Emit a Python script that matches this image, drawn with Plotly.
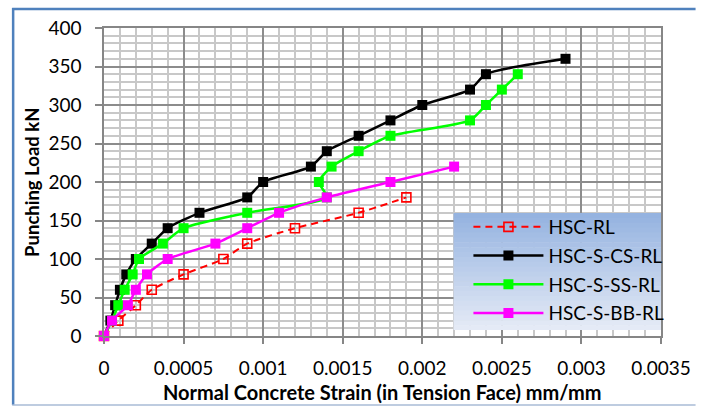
import plotly.graph_objects as go

# ---- data ----
strain_rl = [0, 0.00009, 0.0002, 0.0003, 0.0005, 0.00075, 0.0009, 0.0012, 0.0016, 0.0019]
load_rl = [0, 20, 40, 60, 80, 100, 120, 140, 160, 180]

strain_cs = [0, 0.00004, 0.00007, 0.0001, 0.00014, 0.0002, 0.0003, 0.0004, 0.0006, 0.0009,
             0.001, 0.0013, 0.0014, 0.0016, 0.0018, 0.002, 0.0023, 0.0024, 0.0029]
load_cs = [0, 20, 40, 60, 80, 100, 120, 140, 160, 180, 200, 220, 240, 260, 280, 300, 320, 340, 360]

strain_ss = [0, 0.00005, 0.00009, 0.00013, 0.00018, 0.00022, 0.00037, 0.0005, 0.0009, 0.0014,
             0.00135, 0.00143, 0.0016, 0.0018, 0.0023, 0.0024, 0.0025, 0.0026]
load_ss = [0, 20, 40, 60, 80, 100, 120, 140, 160, 180, 200, 220, 240, 260, 280, 300, 320, 340]

strain_bb = [0, 0.00005, 0.00015, 0.0002, 0.00027, 0.0004, 0.0007, 0.0009, 0.0011, 0.0014, 0.0018, 0.0022]
load_bb = [0, 20, 40, 60, 80, 100, 120, 140, 160, 180, 200, 220]

series_names = ["HSC-RL", "HSC-S-CS-RL", "HSC-S-SS-RL", "HSC-S-BB-RL"]

x_tick_vals = [0, 0.0005, 0.001, 0.0015, 0.002, 0.0025, 0.003, 0.0035]
x_tick_text = ["0", "0.0005", "0.001", "0.0015", "0.002", "0.0025", "0.003", "0.0035"]
y_tick_vals = [0, 50, 100, 150, 200, 250, 300, 350, 400]

x_title = "Normal Concrete Strain (in Tension Face) mm/mm"
y_title = "Punching Load kN"

FONT = "Lato"
W, H = 703, 408
ML, MR, MT, MB = 104, 35, 28, 72
PW, PH = W - ML - MR, H - MT - MB


def px(xp):
    return (xp - ML) / PW


def py(yp):
    return (H - MB - yp) / PH


fig = go.Figure()

fig.add_trace(go.Scatter(
    x=strain_rl, y=load_rl, name=series_names[0], mode="lines+markers", cliponaxis=False,
    line=dict(color="#ff0000", width=2, dash="7px,5px", shape="spline", smoothing=0.6),
    marker=dict(symbol="square-open", size=9, color="#ff0000", line=dict(width=1.6, color="#ff0000")),
    legendgroup="a"))
fig.add_trace(go.Scatter(
    x=strain_cs, y=load_cs, name=series_names[1], mode="lines+markers", cliponaxis=False,
    line=dict(color="#000000", width=2.5, shape="spline", smoothing=0.6),
    marker=dict(symbol="square", size=10, color="#000000"),
    legendgroup="b"))
fig.add_trace(go.Scatter(
    x=strain_ss, y=load_ss, name=series_names[2], mode="lines+markers", cliponaxis=False,
    line=dict(color="#00ff00", width=2.5, shape="spline", smoothing=0.6),
    marker=dict(symbol="square", size=10, color="#00ff00"),
    legendgroup="c"))
fig.add_trace(go.Scatter(
    x=strain_bb, y=load_bb, name=series_names[3], mode="lines+markers", cliponaxis=False,
    line=dict(color="#ff00ff", width=2.5, shape="spline", smoothing=0.6),
    marker=dict(symbol="square", size=10, color="#ff00ff"),
    legendgroup="d"))

shapes = []
# legend gradient background
lx0, lx1, ly0, ly1 = 458, 668, 213, 330
n = 24
top = (149, 179, 224)
bot = (228, 234, 246)
for i in range(n):
    t = i / (n - 1)
    c = tuple(int(round(top[k] + (bot[k] - top[k]) * t)) for k in range(3))
    y0 = ly0 + (ly1 - ly0) * i / n
    y1 = ly0 + (ly1 - ly0) * (i + 1) / n + 0.6
    shapes.append(dict(type="rect", xref="paper", yref="paper", layer="above",
                       x0=px(lx0), x1=px(lx1), y0=py(min(y1, ly1)), y1=py(y0),
                       fillcolor="rgb(%d,%d,%d)" % c, line=dict(width=0)))
# outer chart border
shapes.append(dict(type="line", xref="paper", yref="paper", x0=px(12), x1=px(12), y0=py(405), y1=py(8),
                   line=dict(color="#4f81bd", width=2.5)))
shapes.append(dict(type="line", xref="paper", yref="paper", x0=px(11), x1=px(703), y0=py(9), y1=py(9),
                   line=dict(color="#4f81bd", width=2.5)))
shapes.append(dict(type="line", xref="paper", yref="paper", x0=px(11), x1=px(703), y0=py(405), y1=py(405),
                   line=dict(color="#a9bbd6", width=1.5)))

annotations = [
    dict(text="<b>%s</b>" % x_title, xref="paper", yref="paper", x=0.5, y=py(392),
         xanchor="center", yanchor="middle", showarrow=False, font=dict(family=FONT, size=20, color="#000")),
    dict(text="<b>%s</b>" % y_title, xref="paper", yref="paper", x=px(31), y=0.5, textangle=-90,
         xanchor="center", yanchor="middle", showarrow=False, font=dict(family=FONT, size=18.5, color="#000")),
]

fig.update_layout(
    width=W, height=H,
    margin=dict(l=ML, r=MR, t=MT, b=MB),
    paper_bgcolor="white", plot_bgcolor="white",
    font=dict(family=FONT, size=19, color="#000"),
    showlegend=True,
    legend=dict(x=px(473), y=py(208), xanchor="left", yanchor="top",
                bgcolor="rgba(0,0,0,0)", borderwidth=0,
                font=dict(family=FONT, size=19, color="#000"),
                itemwidth=70, traceorder="grouped", tracegroupgap=1),
    shapes=shapes,
    annotations=annotations,
    xaxis=dict(range=[0, 0.0035], tickvals=x_tick_vals, ticktext=x_tick_text,
               showgrid=True, gridcolor="#8c8c8c", gridwidth=1.5,
               minor=dict(dtick=0.0001, tick0=0, showgrid=True, gridcolor="#c8c8c8", gridwidth=1.8),
               showline=True, linecolor="#868686", linewidth=1.5, mirror=True,
               ticks="outside", ticklen=6, tickcolor="#868686", tickwidth=1.5,
               ticklabelstandoff=8,
               zeroline=False, tickfont=dict(family=FONT, size=19, color="#000")),
    yaxis=dict(range=[0, 400], tickvals=y_tick_vals,
               showgrid=True, gridcolor="#8c8c8c", gridwidth=1.5,
               minor=dict(dtick=10, tick0=0, showgrid=True, gridcolor="#c8c8c8", gridwidth=1.8),
               showline=True, linecolor="#868686", linewidth=1.5, mirror=True,
               ticks="outside", ticklen=7, tickcolor="#868686", tickwidth=1.5,
               ticklabelstandoff=10,
               zeroline=False, tickfont=dict(family=FONT, size=19, color="#000")),
)

css_js = (
    "var s=document.createElement('style');"
    "s.textContent='html,body{margin:0!important;padding:0!important;overflow:hidden!important;"
    "width:703px;height:408px;}::-webkit-scrollbar{display:none;width:0;height:0;}';"
    "document.head.appendChild(s);"
)
fig.write_html("out.html", config={"displayModeBar": False}, post_script=css_js)
